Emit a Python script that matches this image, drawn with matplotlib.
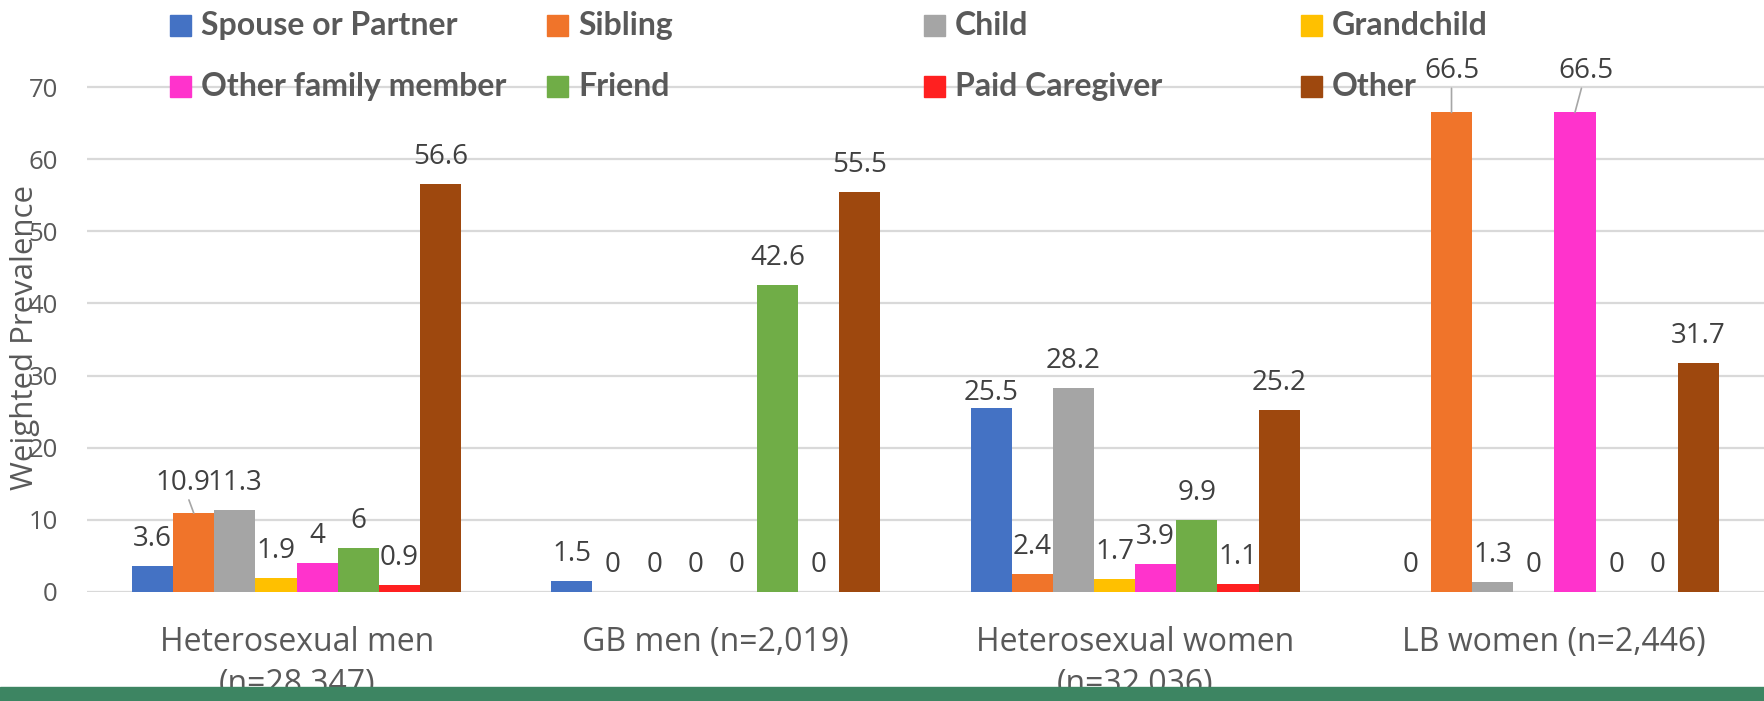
import matplotlib
matplotlib.use("Agg")
import matplotlib.pyplot as plt
from matplotlib.patches import Rectangle

# ---- data ----
categories = ["Heterosexual men\n(n=28,347)", "GB men (n=2,019)",
              "Heterosexual women\n(n=32,036)", "LB women (n=2,446)"]
series_names = ["Spouse or Partner", "Sibling", "Child", "Grandchild",
                "Other family member", "Friend", "Paid Caregiver", "Other"]
spouse = [3.6, 1.5, 25.5, 0]
sibling = [10.9, 0, 2.4, 66.5]
child = [11.3, 0, 28.2, 1.3]
grandchild = [1.9, 0, 1.7, 0]
other_family = [4, 0, 3.9, 66.5]
friend = [6, 42.6, 9.9, 0]
paid_caregiver = [0.9, 0, 1.1, 0]
other = [56.6, 55.5, 25.2, 31.7]
series_values = [spouse, sibling, child, grandchild,
                 other_family, friend, paid_caregiver, other]
colors = ["#4472C4", "#F0742A", "#A5A5A5", "#FFC000",
          "#FF33CC", "#70AD47", "#FF2020", "#9E480E"]

# label nudges (group, series) -> (dx px, dy px above bar top, leader line)
label_nudge = {
    (0, 1): (-11, 23, True),
    (3, 1): (0, 34, True),
    (3, 4): (11, 34, True),
    (2, 0): (0, 8, False),
}

plt.rcParams["font.family"] = ["Open Sans", "DejaVu Sans"]

W, H = 1764, 701
fig = plt.figure(figsize=(W / 100, H / 100), dpi=100)
ax = fig.add_axes([87 / W, (H - 591.7) / H, 1 - 87 / W, (591.7 - 15.2) / H])

n = len(series_names)
bw = 1 / (n + 2.19)
for j, (name, vals, col) in enumerate(zip(series_names, series_values, colors)):
    xs = [i + (j - (n - 1) / 2) * bw for i in range(len(categories))]
    ax.bar(xs, vals, bw, color=col, zorder=2)
    for g, (x, v) in enumerate(zip(xs, vals)):
        dx, dy, lead = label_nudge.get((g, j), (0, 20, False))
        kw = {}
        if lead:
            kw["arrowprops"] = dict(arrowstyle="-", color="#A6A6A6", lw=1.2,
                                    shrinkA=0, shrinkB=0)
        ax.annotate(f"{v:g}", xy=(x, v), xytext=(dx * 0.72, dy * 0.72),
                    textcoords="offset points", ha="center", va="baseline",
                    fontsize=20, color="#404040", zorder=4, **kw)

ax.set_xlim(-0.5, len(categories) - 0.5)
ax.set_ylim(0, 80)
ax.set_yticks(range(0, 80, 10))
ax.set_xticks(range(len(categories)))
ax.set_xticklabels(categories, fontsize=23, color="#595959", linespacing=1.36)
ax.tick_params(axis="x", length=0, pad=25)
ax.tick_params(axis="y", length=0, pad=21, labelsize=18.5, labelcolor="#595959")
ax.grid(axis="y", color="#D9D9D9", lw=1.6, zorder=0)
ax.set_axisbelow(True)
for s in ax.spines.values():
    s.set_visible(False)

fig.text(25 / W, 1 - 338 / H, "Weighted Prevalence", rotation=90,
         ha="center", va="center", fontsize=22.5, color="#595959")

# legend laid out in an even 4-column grid
for i, (name, col) in enumerate(zip(series_names, colors)):
    r, c = divmod(i, 4)
    x0 = 170 + c * 377
    yc = 25.5 + r * 61
    fig.add_artist(Rectangle((x0 / W, 1 - (yc + 10.5) / H), 21 / W, 21 / H,
                             transform=fig.transFigure, color=col, zorder=5))
    fig.text((x0 + 31) / W, 1 - yc / H, name, ha="left", va="center",
             fontsize=23, fontweight="bold", color="#595959", zorder=5,
             family=["Lato", "DejaVu Sans"])

# green footer band
fig.add_artist(Rectangle((0, 0), 1, (H - 686.7) / H, transform=fig.transFigure,
                         color="#3D8562", zorder=10))

fig.savefig("out.png", dpi=100)
